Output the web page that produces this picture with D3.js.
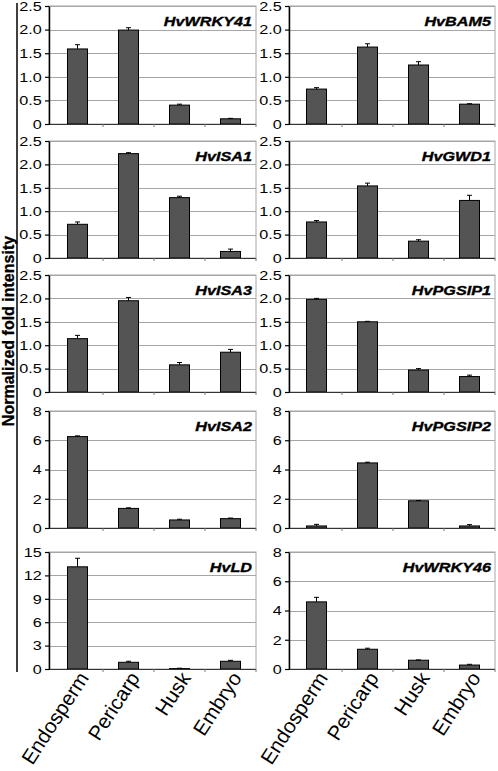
<!DOCTYPE html>
<html>
<head>
<meta charset="utf-8">
<script src="https://cdn.jsdelivr.net/npm/d3@7/dist/d3.min.js"></script>
<style>
html,body{margin:0;padding:0;background:#fff;}
svg{display:block;font-family:Arial,"Liberation Sans",sans-serif;}
</style>
</head>
<body>
<svg id="chart" width="498" height="771"></svg>
<script>
// ---- data ----
const categories = ["Endosperm", "Pericarp", "Husk", "Embryo"];
const genes = ["HvWRKY41", "HvBAM5", "HvISA1", "HvGWD1", "HvISA3", "HvPGSIP1", "HvISA2", "HvPGSIP2", "HvLD", "HvWRKY46"];
const valWRKY41 = [1.59, 1.99, 0.40, 0.11];
const errWRKY41 = [0.09, 0.05, 0.02, 0.01];
const valBAM5 = [0.74, 1.63, 1.25, 0.42];
const errBAM5 = [0.03, 0.07, 0.07, 0.01];
const valISA1 = [0.72, 2.23, 1.29, 0.14];
const errISA1 = [0.05, 0.02, 0.03, 0.05];
const valGWD1 = [0.77, 1.54, 0.36, 1.23];
const errGWD1 = [0.03, 0.06, 0.03, 0.11];
const valISA3 = [1.14, 1.95, 0.58, 0.85];
const errISA3 = [0.07, 0.07, 0.05, 0.06];
const valPGSIP1 = [1.98, 1.50, 0.47, 0.33];
const errPGSIP1 = [0.02, 0.01, 0.03, 0.03];
const valISA2 = [6.25, 1.34, 0.55, 0.64];
const errISA2 = [0.05, 0.04, 0.05, 0.04];
const valPGSIP2 = [0.14, 4.45, 1.86, 0.14];
const errPGSIP2 = [0.11, 0.05, 0.02, 0.09];
const valLD = [13.1, 0.86, 0.05, 0.99];
const errLD = [1.1, 0.13, 0.05, 0.12];
const valWRKY46 = [4.59, 1.35, 0.60, 0.27];
const errWRKY46 = [0.31, 0.07, 0.02, 0.05];
const seriesValues = [valWRKY41, valBAM5, valISA1, valGWD1, valISA3, valPGSIP1, valISA2, valPGSIP2, valLD, valWRKY46];
const seriesErrors = [errWRKY41, errBAM5, errISA1, errGWD1, errISA3, errPGSIP1, errISA2, errPGSIP2, errLD, errWRKY46];
const ticksA = [0, 0.5, 1.0, 1.5, 2.0, 2.5];
const tickLabelsA = ["0", "0.5", "1.0", "1.5", "2.0", "2.5"];
const ticksB = [0, 2, 4, 6, 8];
const tickLabelsB = ["0", "2", "4", "6", "8"];
const ticksC = [0, 3, 6, 9, 12, 15];
const tickLabelsC = ["0", "3", "6", "9", "12", "15"];
const panelTicks = [ticksA, ticksA, ticksA, ticksA, ticksA, ticksA, ticksB, ticksB, ticksC, ticksB];
const panelTickLabels = [tickLabelsA, tickLabelsA, tickLabelsA, tickLabelsA, tickLabelsA, tickLabelsA, tickLabelsB, tickLabelsB, tickLabelsC, tickLabelsB];
const yTitle = "Normalized fold intensity";

// ---- layout ----
const cols = [{axis: 49, x0: 52, x1: 256}, {axis: 289, x0: 291, x1: 495}];
const rows = [[6, 124], [141, 258], [275, 392], [411, 528], [552, 669]];

const svg = d3.select("#chart");

// y title and its line
svg.append("line").attr("x1", 17).attr("x2", 17).attr("y1", 3).attr("y2", 672)
  .attr("stroke", "#000").attr("stroke-width", 1.5);
svg.append("text").attr("transform", "translate(13.5,331) rotate(-90)")
  .attr("text-anchor", "middle").attr("font-weight", "bold").attr("font-size", 16)
  .attr("fill", "#000").attr("stroke", "#000").attr("stroke-width", 0.3).text(yTitle);

genes.forEach((gene, i) => {
  const col = cols[i % 2];
  const row = rows[Math.floor(i / 2)];
  const ticks = panelTicks[i];
  const labels = panelTickLabels[i];
  const x = d3.scaleBand().domain(categories).range([col.x0, col.x1]).paddingInner(0).paddingOuter(0);
  const y = d3.scaleLinear().domain([0, ticks[ticks.length - 1]]).range([row[1], row[0]]);
  const g = svg.append("g");

  // plot frame
  g.append("rect").attr("x", col.axis).attr("y", row[0])
    .attr("width", col.x1 - col.axis).attr("height", row[1] - row[0])
    .attr("fill", "#fff").attr("stroke", "#a6a6a6").attr("stroke-width", 1);
  // gridlines
  g.selectAll(".grid").data(ticks.slice(1)).enter().append("line")
    .attr("x1", col.axis).attr("x2", col.x1)
    .attr("y1", d => Math.round(y(d)) + 0.5).attr("y2", d => Math.round(y(d)) + 0.5)
    .attr("stroke", "#a6a6a6").attr("stroke-width", 1);

  // bars
  const vals = seriesValues[i], errs = seriesErrors[i];
  const bw = 20;
  g.selectAll(".bar").data(categories).enter().append("rect")
    .attr("x", (c) => x(c) + x.bandwidth() / 2 - bw / 2)
    .attr("y", (c, j) => y(vals[j]))
    .attr("width", bw)
    .attr("height", (c, j) => y(0) - y(vals[j]))
    .attr("fill", "#545454").attr("stroke", "#000").attr("stroke-width", 1);
  // error bars
  categories.forEach((c, j) => {
    const cx = x(c) + x.bandwidth() / 2;
    g.append("line").attr("x1", cx).attr("x2", cx)
      .attr("y1", y(vals[j])).attr("y2", y(vals[j] + errs[j]))
      .attr("stroke", "#000").attr("stroke-width", 1);
    g.append("line").attr("x1", cx - 2.5).attr("x2", cx + 2.5)
      .attr("y1", y(vals[j] + errs[j])).attr("y2", y(vals[j] + errs[j]))
      .attr("stroke", "#000").attr("stroke-width", 1);
  });

  // x axis
  const xa = g.append("g").attr("transform", `translate(0,${row[1]})`);
  xa.append("line").attr("x1", col.axis).attr("x2", col.x1).attr("y1", 0.5).attr("y2", 0.5)
    .attr("stroke", "#333").attr("stroke-width", 1);
  xa.selectAll(".sep").data(categories.slice(1).concat(["__end"])).enter().append("line")
    .attr("x1", c => (c === "__end" ? col.x1 : x(c)))
    .attr("x2", c => (c === "__end" ? col.x1 : x(c)))
    .attr("y1", 0).attr("y2", 3).attr("stroke", "#777").attr("stroke-width", 1);

  // y axis
  const ya = g.append("g").attr("transform", `translate(${col.axis},0)`)
    .call(d3.axisLeft(y).tickValues(ticks).tickFormat((d, k) => labels[k]).tickSize(4).tickPadding(2).tickSizeOuter(0));
  ya.select(".domain").attr("stroke", "#000").attr("stroke-width", 1.5);
  ya.selectAll(".tick line").attr("stroke", "#000").attr("stroke-width", 1.2);
  ya.selectAll(".tick text").attr("font-size", 13.5).attr("font-family", "Arial, 'Liberation Sans', sans-serif")
    .attr("fill", "#000").attr("transform", `scale(1.2,1)`);

  // gene label
  g.append("text").attr("transform", `translate(${col.x1 - 4},${row[0] + 20}) scale(1.2,1)`)
    .attr("text-anchor", "end").attr("font-weight", "bold").attr("font-style", "italic")
    .attr("font-size", 13.5).attr("fill", "#000").attr("stroke", "#000").attr("stroke-width", 0.35).text(gene);

  // category labels under last row
  if (Math.floor(i / 2) === rows.length - 1) {
    categories.forEach((c) => {
      const cx = x(c) + x.bandwidth() / 2;
      g.append("text").attr("transform", `translate(${cx + 12},${row[1] + 9}) rotate(-57)`)
        .attr("text-anchor", "end").attr("font-size", 20.5).attr("fill", "#000").text(c);
    });
  }
});
</script>
</body>
</html>
